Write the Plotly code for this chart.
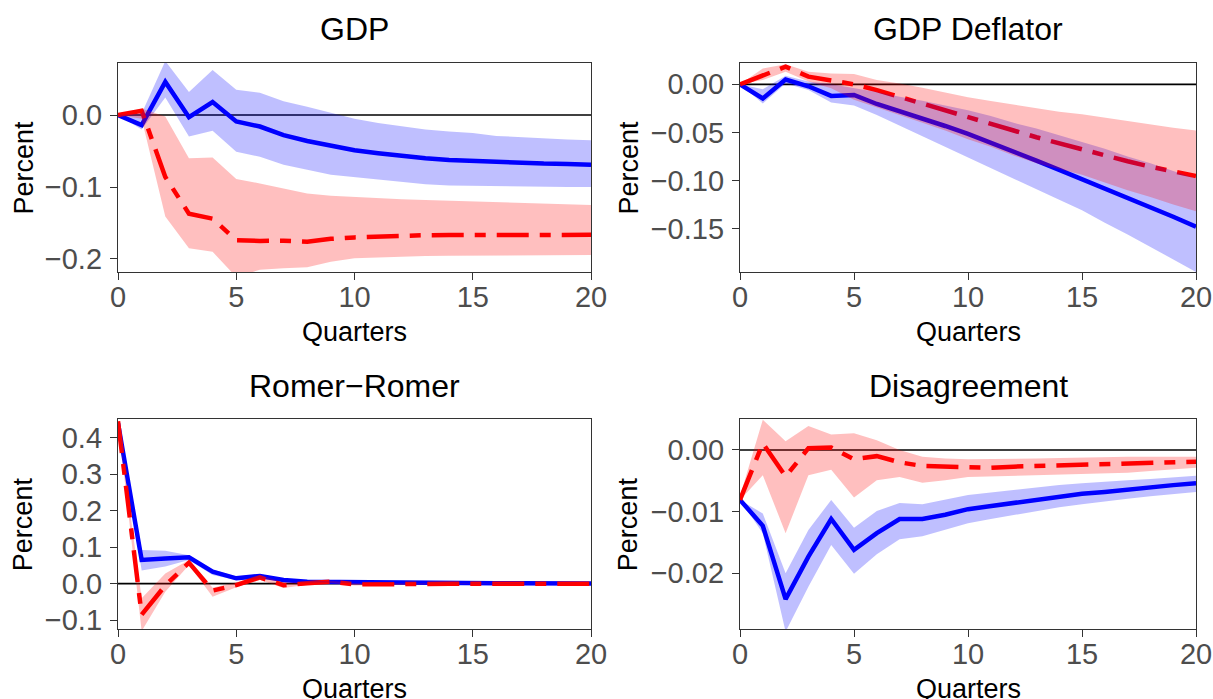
import plotly.graph_objects as go

# ---------------- data ----------------
quarters = list(range(21))

panel_titles = ["GDP", "GDP Deflator", "Romer\u2212Romer", "Disagreement"]
x_title = "Quarters"
y_title = "Percent"

x_tickvals = [0, 5, 10, 15, 20]
x_ticktext = ["0", "5", "10", "15", "20"]

# GDP
gdp_blue = [0, -0.014, 0.046, -0.003, 0.018, -0.009, -0.016, -0.028, -0.036, -0.043, -0.049,
            -0.053, -0.057, -0.060, -0.0625, -0.064, -0.066, -0.067, -0.0675, -0.068, -0.069]
gdp_blue_hi = [0, 0.002, 0.075, 0.032, 0.0625, 0.035, 0.031, 0.019, 0.0116, 0.003, -0.005,
               -0.011, -0.016, -0.020, -0.023, -0.025, -0.029, -0.031, -0.033, -0.034, -0.035]
gdp_blue_lo = [0, -0.020, 0.0245, -0.030, -0.022, -0.051, -0.058, -0.069, -0.076, -0.083, -0.086,
               -0.089, -0.0925, -0.096, -0.098, -0.098, -0.099, -0.099, -0.0995, -0.100, -0.100]
gdp_red = [0, 0.006, -0.086, -0.137, -0.144, -0.174, -0.175, -0.1745, -0.176, -0.172, -0.170,
           -0.1685, -0.1675, -0.167, -0.1667, -0.1665, -0.1665, -0.1665, -0.1665, -0.1665, -0.1665]
gdp_red_hi = [0, 0.009, -0.002, -0.060, -0.059, -0.089, -0.095, -0.102, -0.109, -0.112, -0.114,
              -0.116, -0.117, -0.118, -0.119, -0.120, -0.121, -0.122, -0.123, -0.125, -0.125]
gdp_red_lo = [0, -0.005, -0.141, -0.185, -0.190, -0.225, -0.215, -0.213, -0.2115, -0.204, -0.199,
              -0.1977, -0.197, -0.196, -0.1955, -0.195, -0.195, -0.1948, -0.1946, -0.1945, -0.1945]
gdp_range = [-0.2185, 0.0727]
gdp_ticks = [-0.2, -0.1, 0.0]
gdp_ticktext = ["\u22120.2", "\u22120.1", "0.0"]

# GDP Deflator
def_blue = [0, -0.0146, 0.005, -0.002, -0.012, -0.011, -0.0204, -0.0277, -0.0353, -0.0433, -0.0516,
            -0.0606, -0.070, -0.0793, -0.089, -0.0988, -0.108, -0.118, -0.127, -0.1376, -0.148]
def_blue_hi = [0, -0.005, 0.009, 0.003, 0.000, -0.004, -0.008, -0.013, -0.017, -0.022, -0.027,
               -0.033, -0.040, -0.046, -0.053, -0.060, -0.067, -0.075, -0.082, -0.090, -0.098]
def_blue_lo = [0, -0.020, 0.001, -0.006, -0.019, -0.022, -0.032, -0.043, -0.054, -0.065, -0.076,
               -0.087, -0.098, -0.109, -0.120, -0.131, -0.144, -0.156, -0.169, -0.182, -0.195]
def_red = [0, 0.0097, 0.0184, 0.008, 0.0045, 0.0, -0.006, -0.0128, -0.0198, -0.0267, -0.0343,
           -0.0412, -0.048, -0.055, -0.0613, -0.068, -0.0745, -0.080, -0.0856, -0.090, -0.0953]
def_red_hi = [0, 0.0166, 0.021, 0.013, 0.0114, 0.0107, 0.0045, 0.001, -0.0035, -0.0087, -0.0135,
              -0.0173, -0.0208, -0.025, -0.0284, -0.031, -0.0345, -0.0385, -0.042, -0.045, -0.048]
def_red_lo = [0, 0.0045, 0.013, 0.003, -0.004, -0.016, -0.024, -0.032, -0.040, -0.048, -0.057,
              -0.065, -0.074, -0.082, -0.088, -0.094, -0.102, -0.110, -0.117, -0.125, -0.132]
def_range = [-0.1954, 0.0225]
def_ticks = [-0.15, -0.10, -0.05, 0.0]
def_ticktext = ["\u22120.15", "\u22120.10", "\u22120.05", "0.00"]

# Romer-Romer
rr_blue = [0.44, 0.065, 0.069, 0.072, 0.033, 0.0146, 0.021, 0.010, 0.0055, 0.0046, 0.0037,
           0.003, 0.0025, 0.002, 0.0016, 0.0013, 0.001, 0.0008, 0.0006, 0.0005, 0.0004]
rr_blue_hi = [0.44, 0.092, 0.090, 0.078, 0.039, 0.019, 0.026, 0.014, 0.008, 0.006, 0.005,
              0.004, 0.0035, 0.003, 0.0025, 0.002, 0.0016, 0.0013, 0.001, 0.0008, 0.0007]
rr_blue_lo = [0.44, 0.036, 0.047, 0.065, 0.024, 0.010, 0.015, 0.006, 0.003, 0.003, 0.0025,
              0.002, 0.0015, 0.001, 0.0008, 0.0006, 0.0004, 0.0003, 0.0002, 0.0001, 0.0001]
rr_red = [0.445, -0.085, -0.005, 0.0575, -0.019, -0.004, 0.017, -0.004, 0.001, 0.0055, -0.002,
          -0.001, -0.0008, -0.0005, -0.0003, -0.0002, -0.0001, 0.0, 0.0, 0.0, 0.0]
rr_red_hi = [0.445, -0.040, 0.028, 0.065, -0.011, 0.004, 0.024, 0.003, 0.004, 0.008, 0.001,
             0.001, 0.0008, 0.0006, 0.0004, 0.0003, 0.0002, 0.0001, 0.0001, 0.0001, 0.0001]
rr_red_lo = [0.445, -0.130, -0.022, 0.051, -0.036, -0.010, 0.010, -0.012, -0.003, 0.002, -0.005,
             -0.003, -0.002, -0.0015, -0.001, -0.0008, -0.0006, -0.0005, -0.0004, -0.0003, -0.0002]
rr_range = [-0.125, 0.451]
rr_ticks = [-0.1, 0.0, 0.1, 0.2, 0.3, 0.4]
rr_ticktext = ["\u22120.1", "0.0", "0.1", "0.2", "0.3", "0.4"]

# Disagreement
dis_blue = [-0.0081, -0.0123, -0.0242, -0.0173, -0.0112, -0.0162, -0.0135, -0.0112, -0.0112, -0.0105, -0.0096,
            -0.0091, -0.0085, -0.0080, -0.0076, -0.0071, -0.0068, -0.0064, -0.0061, -0.0057, -0.0054]
dis_blue_hi = [-0.0081, -0.0103, -0.0200, -0.0130, -0.0081, -0.0126, -0.0099, -0.0086, -0.0088, -0.0081, -0.0073,
               -0.0069, -0.0065, -0.0060, -0.0057, -0.0054, -0.0051, -0.0049, -0.0047, -0.0044, -0.0042]
dis_blue_lo = [-0.0081, -0.0135, -0.0295, -0.0222, -0.0154, -0.0201, -0.0169, -0.0145, -0.0140, -0.0130, -0.0119,
               -0.0112, -0.0105, -0.0099, -0.0093, -0.0088, -0.0083, -0.0079, -0.0075, -0.0071, -0.0068]
dis_red = [-0.0081, 0.0011, -0.0043, 0.0003, 0.0004, -0.0015, -0.0010, -0.0020, -0.0026, -0.0027, -0.0028,
           -0.0029, -0.0027, -0.0026, -0.0025, -0.0024, -0.0023, -0.0022, -0.0021, -0.0020, -0.0019]
dis_red_hi = [-0.0075, 0.0049, 0.0014, 0.0039, 0.0025, 0.0027, 0.0016, 0.0000, -0.0011, -0.0014, -0.0015,
              -0.0015, -0.0014, -0.0014, -0.0013, -0.0012, -0.0012, -0.0011, -0.0011, -0.0011, -0.0011]
dis_red_lo = [-0.0081, -0.0041, -0.0135, -0.0041, -0.0032, -0.0077, -0.0049, -0.0044, -0.0053, -0.0049, -0.0044,
              -0.0043, -0.0042, -0.0041, -0.0040, -0.0039, -0.0038, -0.0037, -0.0034, -0.0031, -0.0029]
dis_range = [-0.0291, 0.00503]
dis_ticks = [-0.02, -0.01, 0.0]
dis_ticktext = ["\u22120.02", "\u22120.01", "0.00"]

# ---------------- styling / layout ----------------
W, H = 1213, 699
FONT = "Liberation Sans, Arial, Helvetica, sans-serif"
BLUE = "#0000FF"
RED = "#FF0000"
BLUE_BAND = "rgba(0,0,255,0.25)"
RED_BAND = "rgba(255,0,0,0.25)"
AXIS_COL = "#333333"
TICK_COL = "#4D4D4D"

# pixel boxes of the four panels: (left, right, top, bottom) and x of "Percent"
boxes = [(118, 591, 62.7, 272.3), (740, 1196, 62.7, 272.3),
         (118, 591, 419.0, 629.3), (740, 1196, 419.0, 629.3)]
ytitle_x = [23, 628, 23, 628]

panels = [
    (gdp_blue, gdp_blue_lo, gdp_blue_hi, gdp_red, gdp_red_lo, gdp_red_hi, gdp_range, gdp_ticks, gdp_ticktext),
    (def_blue, def_blue_lo, def_blue_hi, def_red, def_red_lo, def_red_hi, def_range, def_ticks, def_ticktext),
    (rr_blue, rr_blue_lo, rr_blue_hi, rr_red, rr_red_lo, rr_red_hi, rr_range, rr_ticks, rr_ticktext),
    (dis_blue, dis_blue_lo, dis_blue_hi, dis_red, dis_red_lo, dis_red_hi, dis_range, dis_ticks, dis_ticktext),
]

fig = go.Figure()
layout_axes = {}
annotations = []
shapes = []

for i, (pb, pbl, pbh, pr, prl, prh, yr, yt, ytt) in enumerate(panels):
    n = i + 1
    xa = "x" if n == 1 else f"x{n}"
    ya = "y" if n == 1 else f"y{n}"
    xkey = "xaxis" if n == 1 else f"xaxis{n}"
    ykey = "yaxis" if n == 1 else f"yaxis{n}"
    L, R, T, B = boxes[i]

    # lines first, then bands (bands blend over the lines as in the reference)
    fig.add_trace(go.Scatter(x=quarters, y=pb, mode="lines", xaxis=xa, yaxis=ya,
                             line=dict(color=BLUE, width=4.5), showlegend=False, hoverinfo="skip"))
    fig.add_trace(go.Scatter(x=quarters, y=pr, mode="lines", xaxis=xa, yaxis=ya,
                             line=dict(color=RED, width=4.5, dash="32px,11px,11px,11px"),
                             showlegend=False, hoverinfo="skip"))
    fig.add_trace(go.Scatter(x=quarters + quarters[::-1], y=pbh + pbl[::-1], mode="lines",
                             fill="toself", fillcolor=BLUE_BAND, line=dict(width=0),
                             xaxis=xa, yaxis=ya, showlegend=False, hoverinfo="skip"))
    fig.add_trace(go.Scatter(x=quarters + quarters[::-1], y=prh + prl[::-1], mode="lines",
                             fill="toself", fillcolor=RED_BAND, line=dict(width=0),
                             xaxis=xa, yaxis=ya, showlegend=False, hoverinfo="skip"))

    common = dict(showline=True, mirror=True, linecolor=AXIS_COL, linewidth=1.3,
                  ticks="outside", ticklen=7, tickwidth=1.3, tickcolor=AXIS_COL,
                  showgrid=False, zeroline=False, automargin=False,
                  tickfont=dict(family=FONT, size=29, color=TICK_COL))
    layout_axes[xkey] = dict(common, domain=[L / W, R / W], range=[0, 20], anchor=ya,
                             tickmode="array", tickvals=x_tickvals, ticktext=x_ticktext,
                             ticklabelstandoff=-8)
    layout_axes[ykey] = dict(common, domain=[1 - B / H, 1 - T / H], range=yr, anchor=xa,
                             tickmode="array", tickvals=yt, ticktext=ytt,
                             ticklabelstandoff=2)

    # zero reference line
    shapes.append(dict(type="line", xref=xa, yref=ya, x0=0, x1=20, y0=0, y1=0,
                       line=dict(color="black", width=1.6), layer="below"))

    cx = (L + R) / 2 / W
    annotations.append(dict(text=panel_titles[i], xref="paper", yref="paper", x=cx,
                            y=1 - (T - 33.5) / H, xanchor="center", yanchor="middle",
                            showarrow=False, font=dict(family=FONT, size=32, color="black")))
    annotations.append(dict(text=x_title, xref="paper", yref="paper", x=cx,
                            y=1 - (B + 59.5) / H, xanchor="center", yanchor="middle",
                            showarrow=False, font=dict(family=FONT, size=27, color="black")))
    annotations.append(dict(text=y_title, xref="paper", yref="paper", x=ytitle_x[i] / W,
                            y=1 - ((T + B) / 2) / H, xanchor="center", yanchor="middle",
                            textangle=-90, showarrow=False,
                            font=dict(family=FONT, size=27, color="black")))

fig.update_layout(
    template="none",
    width=W, height=H,
    margin=dict(l=0, r=0, t=0, b=0),
    paper_bgcolor="white", plot_bgcolor="white",
    annotations=annotations, shapes=shapes,
    **layout_axes,
)

fig.write_html("out.html")
